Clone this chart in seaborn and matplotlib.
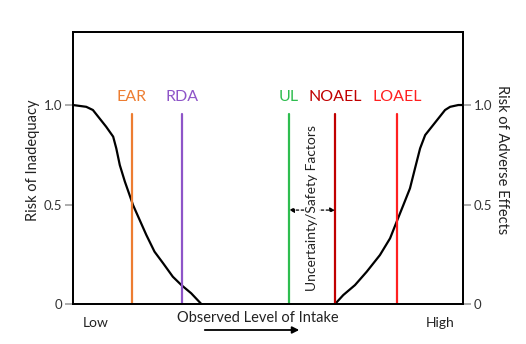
import matplotlib
matplotlib.use("Agg")
import matplotlib.pyplot as plt
import seaborn as sns
import pandas as pd

# ---- data ----
ref_names = ["EAR", "RDA", "UL", "NOAEL", "LOAEL"]
ref_x = [15.1, 27.9, 55.4, 67.2, 83.1]
ref_colors = ["#ED7D31", "#8E55C8", "#2EBD4F", "#C00000", "#FF2020"]

inadequacy_x = [0, 3.4, 5.1, 6.8, 8.5, 10.3, 11.1, 12.0, 13.3, 14.5, 15.4, 17.1, 18.8,
                20.9, 23.1, 25.6, 27.8, 30.3, 32.9]
inadequacy_y = [1.0, 0.991, 0.975, 0.933, 0.891, 0.841, 0.782, 0.698, 0.615, 0.548, 0.497,
                0.422, 0.347, 0.263, 0.205, 0.137, 0.095, 0.054, 0.0]

adverse_x = [67.2, 69.3, 72.3, 75.3, 78.7, 81.3, 83.0, 84.7, 86.4, 87.7, 89.0, 90.3, 92.0,
             93.7, 95.4, 96.7, 98.8, 100]
adverse_y = [0.0, 0.045, 0.095, 0.162, 0.246, 0.330, 0.414, 0.497, 0.581, 0.682, 0.782,
             0.849, 0.891, 0.933, 0.975, 0.991, 1.0, 1.0]

yticks = [0, 0.5, 1.0]
ytick_labels = ["0", "0.5", "1.0"]

sns.set_theme(style="white")
plt.rcParams["font.family"] = ["Lato", "DejaVu Sans"]

fig = plt.figure(figsize=(5.26, 3.44), dpi=100)
ax = fig.add_axes([73 / 526, 1 - 304 / 344, 390 / 526, 272 / 344])

df_l = pd.DataFrame({"x": inadequacy_x, "y": inadequacy_y})
df_r = pd.DataFrame({"x": adverse_x, "y": adverse_y})
sns.lineplot(data=df_l, x="x", y="y", ax=ax, color="black", lw=1.6, sort=False)
sns.lineplot(data=df_r, x="x", y="y", ax=ax, color="black", lw=1.6, sort=False)

for name, xv, c in zip(ref_names, ref_x, ref_colors):
    ax.plot([xv, xv], [0, 0.955], color=c, lw=1.6)
    ax.text(xv, 1.04, name, color=c, ha="center", va="center", fontsize=11.5)

# uncertainty arrow
ax.annotate("", xy=(ref_x[2], 0.472), xytext=(ref_x[3], 0.472),
            arrowprops=dict(arrowstyle="<|-|>", linestyle=(0, (2, 2)), color="black", lw=0.9,
                            mutation_scale=7, shrinkA=0, shrinkB=0))
ax.text(61.3, 0.48, "Uncertainty/Safety Factors", rotation=90, ha="center", va="center",
        fontsize=10, color="#222222",
        bbox=dict(facecolor="white", edgecolor="none", pad=0.5))

ax.set_xlim(0, 100)
ax.set_ylim(0, 1.367)
ax.set_xticks([])
ax.set_yticks(yticks)
ax.set_yticklabels(ytick_labels)
ax.set_xlabel("")
ax.set_ylabel("Risk of Inadequacy", fontsize=10.5, color="#222222")
ax.yaxis.set_label_coords(-0.085, 0.53)
ax.tick_params(axis="y", direction="out", length=6, width=1.2, color="#A0A0A0",
               labelsize=9.5, labelcolor="#333333", left=True, pad=2)
for s in ax.spines.values():
    s.set_color("black")
    s.set_linewidth(1.3)

ax2 = ax.twinx()
ax2.set_ylim(0, 1.367)
ax2.set_yticks(yticks)
ax2.set_yticklabels(ytick_labels)
ax2.tick_params(axis="y", direction="out", length=6, width=1.2, color="#A0A0A0",
                labelsize=9.5, labelcolor="#333333", right=True, pad=2)
ax2.set_ylabel("Risk of Adverse Effects", rotation=270, fontsize=10.5, color="#222222")
ax2.yaxis.set_label_coords(1.118, 0.53)
for s in ax2.spines.values():
    s.set_color("black")
    s.set_linewidth(1.3)

fig.text(96 / 526, 1 - 323 / 344, "Low", ha="center", va="center", fontsize=10, color="#222222")
fig.text(440 / 526, 1 - 323 / 344, "High", ha="center", va="center", fontsize=10, color="#222222")
fig.text(258 / 526, 1 - 318 / 344, "Observed Level of Intake", ha="center", va="center",
         fontsize=10.5, color="#222222")
fig.patches.append(matplotlib.patches.FancyArrowPatch(
    (202 / 526, 1 - 330 / 344), (302 / 526, 1 - 330 / 344), transform=fig.transFigure,
    arrowstyle="-|>", mutation_scale=10, color="black", lw=1.3))

fig.savefig("out.png", dpi=100)
